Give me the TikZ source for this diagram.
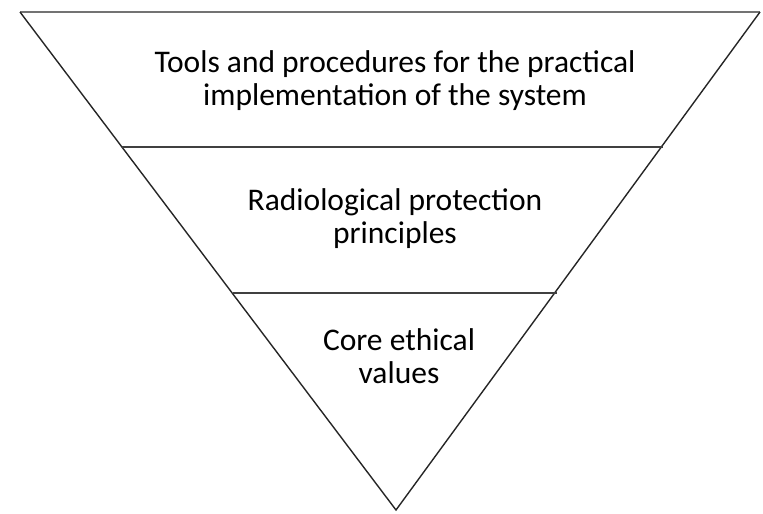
\documentclass[tikz,border=0pt]{standalone}
\usepackage{fontspec}
\setmainfont{Carlito}
\usetikzlibrary{positioning,calc}

\begin{document}
\begin{tikzpicture}[x=1pt, y=-1pt, line width=1.4pt,
	every node/.style={font=\fontsize{31.5}{33}\selectfont, align=center, text=black, inner sep=0pt}]
				\useasboundingbox (0,0) rectangle (763,514);
				\coordinate (tl) at (20,12);
				\coordinate (tr) at (760,12);
				\coordinate (apex) at (396,510);
				\coordinate (l1) at (122,147);
				\coordinate (r1) at (663,147);
				\coordinate (l2) at (233,293);
				\coordinate (r2) at (557,293);
				
				\draw[black!55, line width=2.4pt] (tl) -- (tr);
				\draw[black!85] (tr) -- (apex) -- (tl);
				\draw[black!75] (l1) -- (r1);
				\draw[black!75] (l2) -- (r2);
				
				\node[anchor=base] (tools) at (395,105) {Tools and procedures for the practical\\implementation of the system};
				\node[anchor=base] (princ) at (395,243) {Radiological protection\\principles};
				\node[anchor=base] (core) at (399,383) {Core ethical\\values};
			\end{tikzpicture}
\end{document}
